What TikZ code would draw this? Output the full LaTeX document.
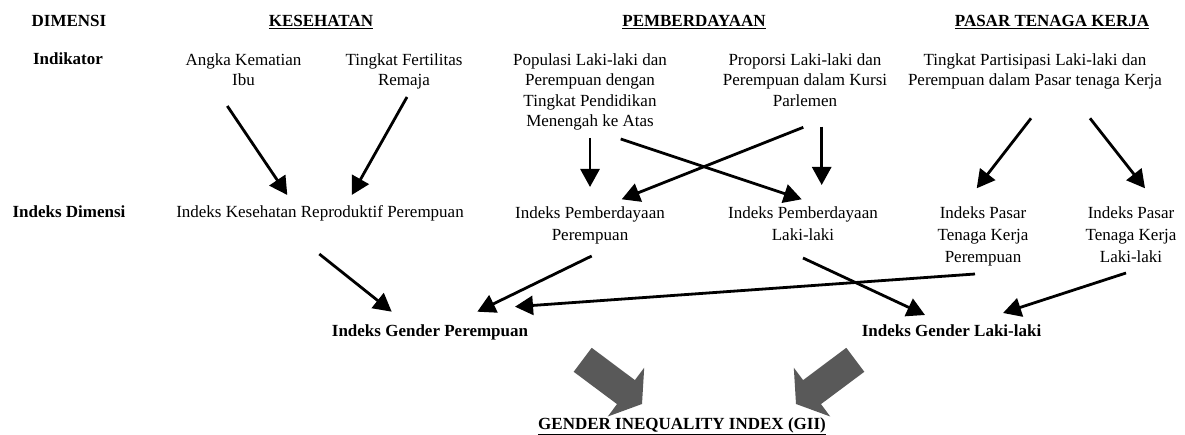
\documentclass[tikz,border=0pt]{standalone}
\usepackage{fontspec}
\setmainfont{Liberation Serif}
\usetikzlibrary{arrows.meta}
\begin{document}
\begin{tikzpicture}[x=1pt,y=-1pt,
  txt/.style={inner sep=0pt,font=\fontsize{17}{20.5}\selectfont,align=center},
  txtb/.style={inner sep=0pt,font=\fontsize{17}{22}\selectfont,align=center},
  hdr/.style={txt,font=\fontsize{17}{20}\selectfont\bfseries},
  arr/.style={line width=2.8pt,-{Triangle[length=18pt,width=19pt]}},
  blockarrow/.style={fill=black!65,draw=none}]
\useasboundingbox (0,0) rectangle (1185,435);
% headers
\node[hdr,anchor=base] (dim) at (69,27) {DIMENSI};
\node[hdr,anchor=base] (kes) at (321,27) {\underline{KESEHATAN}};
\node[hdr,anchor=base] (pem) at (694,27) {\underline{PEMBERDAYAAN}};
\node[hdr,anchor=base] (ptk) at (1052,27) {\underline{PASAR TENAGA KERJA}};
% indicators
\node[hdr,anchor=base] (ind) at (68,65) {Indikator};
\node[txt,anchor=north] (aki) at (243.5,53.3) {Angka Kematian\\Ibu};
\node[txt,anchor=north] (tfr) at (404,53.3) {Tingkat Fertilitas\\Remaja};
\node[txt,anchor=north] (pop) at (590,53.3) {Populasi Laki-laki dan\\Perempuan dengan\\Tingkat Pendidikan\\Menengah ke Atas};
\node[txt,anchor=north] (pro) at (805,53.3) {Proporsi Laki-laki dan\\Perempuan dalam Kursi\\Parlemen};
\node[txt,anchor=north] (tpk) at (1035,53.3) {Tingkat Partisipasi Laki-laki dan\\Perempuan dalam Pasar tenaga Kerja};
% dimension indices
\node[hdr,anchor=base] (idm) at (69,218) {Indeks Dimensi};
\node[txt,anchor=base] (ikrp) at (320,218) {Indeks Kesehatan Reproduktif Perempuan};
\node[txtb,anchor=north] (ipp) at (590,206.3) {Indeks Pemberdayaan\\Perempuan};
\node[txtb,anchor=north] (ipl) at (803,206.3) {Indeks Pemberdayaan\\Laki-laki};
\node[txtb,anchor=north] (iptkp) at (983,206.3) {Indeks Pasar\\Tenaga Kerja\\Perempuan};
\node[txtb,anchor=north] (iptkl) at (1131,206.3) {Indeks Pasar\\Tenaga Kerja\\Laki-laki};
% gender indices
\node[hdr,anchor=base] (igp) at (430,337) {Indeks Gender Perempuan};
\node[hdr,anchor=base] (igl) at (951.5,337) {Indeks Gender Laki-laki};
\node[hdr,anchor=base] (gii) at (682,429) {\underline{GENDER INEQUALITY INDEX (GII)}};
% arrows
\draw[arr] ([shift={(-16.2,52.7)}]aki.north) -- ([shift={(-32.7,-23)}]ikrp.base);
\draw[arr] ([shift={(3,43.7)}]tfr.north) -- ([shift={(31.7,-23)}]ikrp.base);
\draw[arr] ([shift={(0,84.7)}]pop.north) -- ([shift={(0,-19.3)}]ipp.north);
\draw[arr] ([shift={(30.7,85.7)}]pop.north) -- ([shift={(-1.3,-7)}]ipl.north);
\draw[arr] ([shift={(-1.7,74)}]pro.north) -- ([shift={(31.7,-7)}]ipp.north);
\draw[arr] ([shift={(16.7,73.4)}]pro.north) -- ([shift={(18.7,-21.3)}]ipl.north);
\draw[arr] ([shift={(-4,65)}]tpk.north) -- ([shift={(-6.3,-18)}]iptkp.north);
\draw[arr] ([shift={(55,65)}]tpk.north) -- ([shift={(14,-18)}]iptkl.north);
\draw[arr] ([shift={(-0.7,36)}]ikrp.base) -- ([shift={(-38.3,-25.3)}]igp.base);
\draw[arr] ([shift={(1.7,49.7)}]ipp.north) -- ([shift={(47.3,-25.3)}]igp.base);
\draw[arr] ([shift={(-8,67.7)}]iptkp.north) -- ([shift={(85,-30.3)}]igp.base);
\draw[arr] ([shift={(0,51.7)}]ipl.north) -- ([shift={(-26.5,-22)}]igl.base);
\draw[arr] ([shift={(-5,66.7)}]iptkl.north) -- ([shift={(51.5,-24)}]igl.base);
% block arrows to GII
\fill[blockarrow] (591.7,347.8) -- (634.9,380.1) -- (644.2,367.7) -- (642.0,404.0)
  -- (607.8,416.5) -- (617.0,404.1) -- (573.7,371.8) -- cycle;
\fill[blockarrow] (846.3,347.8) -- (803.1,380.1) -- (793.8,367.7) -- (796.0,404.0)
  -- (830.2,416.5) -- (821.0,404.1) -- (864.3,371.8) -- cycle;
\end{tikzpicture}
\end{document}
